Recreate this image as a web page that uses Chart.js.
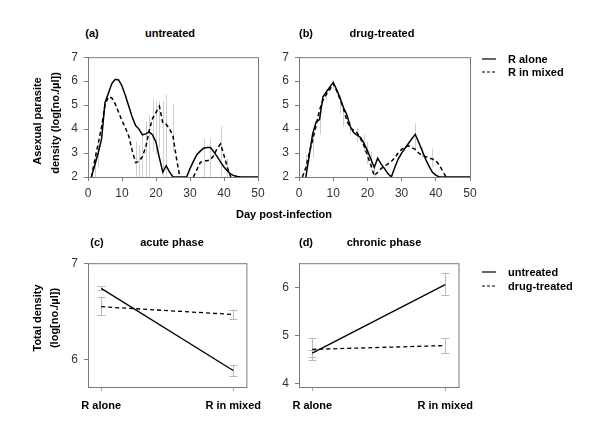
<!DOCTYPE html>
<html>
<head>
<meta charset="utf-8">
<script src="https://cdn.jsdelivr.net/npm/chart.js@4.4.0/dist/chart.umd.min.js"></script>
<style>
  body { margin: 0; background: #fff; }
  #wrap { position: relative; width: 600px; height: 435px; overflow: hidden; font-family: Arial, "Liberation Sans", sans-serif; }
  canvas { position: absolute; }
  .t { position: absolute; font-size: 11px; font-weight: bold; color: #000; white-space: nowrap; }
  .c { transform: translate(-50%, -50%); }
  .l { transform: translate(0, -50%); }
  .v { transform: translate(-50%, -50%) rotate(-90deg); }
  .key { position: absolute; }
</style>
</head>
<body>
<div id="wrap">
  <canvas id="chartA" width="230" height="165" style="left:40px;top:44px"></canvas>
  <canvas id="chartB" width="222" height="165" style="left:260px;top:44px"></canvas>
  <canvas id="chartC" width="230" height="170" style="left:40px;top:250px"></canvas>
  <canvas id="chartD" width="222" height="170" style="left:260px;top:250px"></canvas>

  <div class="t c" style="left:92px;top:33px">(a)</div>
  <div class="t c" style="left:170px;top:33px">untreated</div>
  <div class="t c" style="left:306px;top:33px">(b)</div>
  <div class="t c" style="left:382px;top:33px">drug-treated</div>
  <div class="t c" style="left:284px;top:214px">Day post-infection</div>
  <div class="t v" style="left:37px;top:121px">Asexual parasite</div>
  <div class="t v" style="left:55px;top:123px">density (log[no./µl])</div>

  <div class="t c" style="left:97px;top:242px">(c)</div>
  <div class="t c" style="left:172px;top:242px">acute phase</div>
  <div class="t c" style="left:306px;top:242px">(d)</div>
  <div class="t c" style="left:384px;top:242px">chronic phase</div>
  <div class="t v" style="left:37px;top:318px">Total density</div>
  <div class="t v" style="left:54px;top:318px">(log[no./µl])</div>

  <svg class="key" style="left:480px;top:52px" width="20" height="30">
    <line x1="2" y1="7" x2="16" y2="7" stroke="#000" stroke-width="1.2"/>
    <line x1="2" y1="20" x2="16" y2="20" stroke="#000" stroke-width="1.2" stroke-dasharray="3,2"/>
  </svg>
  <div class="t l" style="left:508px;top:59px">R alone</div>
  <div class="t l" style="left:508px;top:72px">R in mixed</div>

  <svg class="key" style="left:480px;top:265px" width="20" height="30">
    <line x1="2" y1="7" x2="16" y2="7" stroke="#000" stroke-width="1.2"/>
    <line x1="2" y1="21" x2="16" y2="21" stroke="#000" stroke-width="1.2" stroke-dasharray="3,2"/>
  </svg>
  <div class="t l" style="left:508px;top:272px">untreated</div>
  <div class="t l" style="left:508px;top:286px">drug-treated</div>
</div>

<script>
// ---- data: days post-infection (0..50) ----
const days = [0,1,2,3,4,5,6,7,8,9,10,11,12,13,14,15,16,17,18,19,20,21,22,23,24,25,26,27,28,29,30,31,32,33,34,35,36,37,38,39,40,41,42,43,44,45,46,47,48,49,50];

// (a) untreated, log density
const untreatedAlone = [null,2.0,2.5,3.0,3.6,5.1,5.5,5.9,6.08,6.05,5.8,5.4,4.95,4.5,4.15,4.0,3.76,3.8,3.88,3.75,3.45,2.8,2.2,2.47,2.2,2.0,2.0,2.0,2.0,2.0,2.35,2.65,2.93,3.08,3.2,3.23,3.23,3.05,2.85,2.62,2.42,2.25,2.12,2.05,2.02,2.0,2.0,2.0,2.0,2.0,2.0];
const untreatedMixed = [null,2.0,2.7,3.4,4.1,5.0,5.35,5.3,5.05,4.7,4.35,4.05,3.7,3.1,2.6,2.65,2.85,3.25,3.95,4.45,4.7,4.95,4.25,4.2,4.0,3.7,2.8,2.0,null,null,null,2.0,2.3,2.6,2.67,2.68,2.72,2.9,3.2,3.38,2.9,2.4,2.0,null,null,null,null,null,null,null,null];
const errDaysA = [2,3,14,15,16,17,18,19,20,21,22,23,25,34,36,39,41];
const errLoA   = [2.0,2.4,2.0,2.0,2.0,2.0,2.0,3.06,2.93,3.2,2.0,2.0,3.06,2.0,2.0,2.0,2.0];
const errHiA   = [3.06,3.59,3.46,3.33,3.85,4.31,4.57,5.23,5.16,5.16,5.16,5.42,5.03,3.59,3.59,4.1,2.8];

// (b) drug-treated, log density
const drugAlone = [null,null,2.0,2.9,3.8,4.3,4.4,5.35,5.55,5.75,5.95,5.65,5.3,4.9,4.6,4.1,3.85,3.75,3.65,3.4,3.1,2.75,2.4,2.78,2.55,2.35,2.15,2.0,2.4,2.75,3.0,3.2,3.4,3.6,3.78,3.45,3.1,2.75,2.45,2.2,2.08,2.0,2.0,2.0,2.0,2.0,2.0,2.0,2.0,2.0,2.0];
const drugMixed = [null,2.0,2.4,3.0,3.55,4.15,4.8,5.2,5.45,5.65,5.9,5.6,5.25,4.85,4.35,4.05,3.95,3.85,3.6,3.3,2.9,2.5,2.05,2.2,2.35,2.45,2.55,2.65,2.8,3.0,3.15,3.25,3.3,3.22,3.15,3.0,2.9,2.85,2.8,2.75,2.68,2.5,2.25,2.0,null,null,null,null,null,null,null];
const errDaysB = [2,4,6,8,10,12,13,15,17,19,20,21,22,34,36,39];
const errLoB   = [2.0,2.8,3.78,5.16,5.69,4.64,4.11,3.78,3.46,3.06,2.54,2.28,2.0,3.19,2.8,2.41];
const errHiB   = [2.93,3.98,4.5,5.69,6.08,5.42,4.9,4.31,4.05,3.78,3.46,3.06,2.54,4.24,3.26,3.19];

// (c)/(d) total density by infection type
const groups = ['R alone', 'R in mixed'];
const acuteUntreated   = [6.74, 5.89];
const acuteUntreatedLo = [6.72, 5.83];
const acuteUntreatedHi = [6.76, 5.95];
const acuteDrug        = [6.55, 6.47];
const acuteDrugLo      = [6.46, 6.42];
const acuteDrugHi      = [6.65, 6.52];
const chronicUntreated   = [4.63, 6.07];
const chronicUntreatedLo = [4.55, 5.86];
const chronicUntreatedHi = [4.70, 6.32];
const chronicDrug        = [4.71, 4.79];
const chronicDrugLo      = [4.48, 4.63];
const chronicDrugHi      = [4.95, 4.95];

const timeTicksY = [2,3,4,5,6,7];
const acuteTicksY = [6,7];
const chronicTicksY = [4,5,6];

Chart.defaults.font.family = 'Arial, "Liberation Sans", sans-serif';
Chart.defaults.font.size = 12;
Chart.defaults.color = '#333';

// box round the plot + error bars, drawn with the chart's own scales
const boxPlugin = {
  id: 'box',
  afterDraw(chart) {
    const a = chart.chartArea, ctx = chart.ctx;
    ctx.save();
    ctx.strokeStyle = '#7a7a7a';
    ctx.lineWidth = 1;
    ctx.strokeRect(a.left + 0.5, a.top + 0.5, a.right - a.left, a.bottom - a.top);
    ctx.restore();
  }
};
const errPlugin = {
  id: 'errBars',
  beforeDatasetsDraw(chart, args, opts) {
    if (!opts.sets) return;
    const { ctx, scales: { x, y } } = chart;
    ctx.save();
    ctx.strokeStyle = opts.color || '#c8c8c8';
    ctx.lineWidth = 1;
    opts.sets.forEach(s => {
      s.x.forEach((xv, i) => {
        const px = Math.round(x.getPixelForValue(xv)) + 0.5;
        const y1 = y.getPixelForValue(s.lo[i]), y2 = y.getPixelForValue(s.hi[i]);
        ctx.beginPath();
        ctx.moveTo(px, y1); ctx.lineTo(px, y2);
        if (opts.cap) {
          ctx.moveTo(px - opts.cap, Math.round(y1) + 0.5); ctx.lineTo(px + opts.cap, Math.round(y1) + 0.5);
          ctx.moveTo(px - opts.cap, Math.round(y2) + 0.5); ctx.lineTo(px + opts.cap, Math.round(y2) + 0.5);
        }
        ctx.stroke();
      });
    });
    ctx.restore();
  }
};

const axisGrid = { drawOnChartArea: false, tickLength: 4, color: '#7a7a7a' };
const axisBorder = { color: '#7a7a7a' };

function pts(xs, ys) { return xs.map((d, i) => ({ x: d, y: ys[i] })); }

function timeChart(id, solid, dashed, eDays, eLo, eHi, yWidth) {
  new Chart(document.getElementById(id), {
    type: 'line',
    data: {
      datasets: [
        { data: pts(days, solid), borderColor: '#000', borderWidth: 1.5 },
        { data: pts(days, dashed), borderColor: '#000', borderWidth: 1.5, borderDash: [4, 3] }
      ]
    },
    options: {
      responsive: false, animation: false,
      layout: { padding: { top: 6, right: 12, left: 0, bottom: 0 } },
      elements: { point: { radius: 0 }, line: { tension: 0 } },
      plugins: {
        legend: { display: false }, tooltip: { enabled: false },
        errBars: { sets: [{ x: eDays, lo: eLo, hi: eHi }], color: '#cfcfcf' }
      },
      scales: {
        x: {
          type: 'linear', min: 0, max: 50,
          ticks: { stepSize: 10, padding: 5, maxRotation: 0 },
          grid: axisGrid, border: axisBorder,
          afterFit: s => { s.height = 32; }
        },
        y: {
          min: 2, max: 7,
          afterBuildTicks: s => { s.ticks = timeTicksY.map(v => ({ value: v })); },
          ticks: { padding: 6 },
          grid: axisGrid, border: axisBorder,
          afterFit: s => { s.width = yWidth; }
        }
      }
    },
    plugins: [boxPlugin, errPlugin]
  });
}

function phaseChart(id, unt, untLo, untHi, drug, drugLo, drugHi, yMin, yMax, yTicks, yWidth, padTop) {
  const xs = [0, 1];
  new Chart(document.getElementById(id), {
    type: 'line',
    data: {
      datasets: [
        { data: pts(xs, unt), borderColor: '#000', borderWidth: 1.3 },
        { data: pts(xs, drug), borderColor: '#000', borderWidth: 1.3, borderDash: [4, 3] }
      ]
    },
    options: {
      responsive: false, animation: false,
      layout: { padding: { top: padTop, right: 12, left: 0, bottom: 0 } },
      elements: { point: { radius: 0 }, line: { tension: 0 } },
      plugins: {
        legend: { display: false }, tooltip: { enabled: false },
        errBars: {
          sets: [{ x: xs, lo: untLo, hi: untHi }, { x: xs, lo: drugLo, hi: drugHi }],
          color: '#b8b8b8', cap: 4
        }
      },
      scales: {
        x: {
          type: 'linear', min: -0.1, max: 1.1,
          afterBuildTicks: s => { s.ticks = xs.map(v => ({ value: v })); },
          ticks: { padding: 8, maxRotation: 0, font: { size: 11, weight: 'bold' }, color: '#000', callback: v => groups[v] },
          grid: { drawOnChartArea: false, tickLength: 4, color: '#aaa' },
          border: axisBorder,
          afterFit: s => { s.height = 33; }
        },
        y: {
          min: yMin, max: yMax,
          afterBuildTicks: s => { s.ticks = yTicks.map(v => ({ value: v })); },
          ticks: { padding: 6 },
          grid: axisGrid, border: axisBorder,
          afterFit: s => { s.width = yWidth; }
        }
      }
    },
    plugins: [boxPlugin, errPlugin]
  });
}

timeChart('chartA', untreatedAlone, untreatedMixed, errDaysA, errLoA, errHiA, 48);
timeChart('chartB', drugAlone, drugMixed, errDaysB, errLoB, errHiB, 39);
phaseChart('chartC', acuteUntreated, acuteUntreatedLo, acuteUntreatedHi, acuteDrug, acuteDrugLo, acuteDrugHi, 5.72, 7.0, acuteTicksY, 48, 9);
phaseChart('chartD', chronicUntreated, chronicUntreatedLo, chronicUntreatedHi, chronicDrug, chronicDrugLo, chronicDrugHi, 3.92, 6.52, chronicTicksY, 39, 8);
</script>
</body>
</html>
